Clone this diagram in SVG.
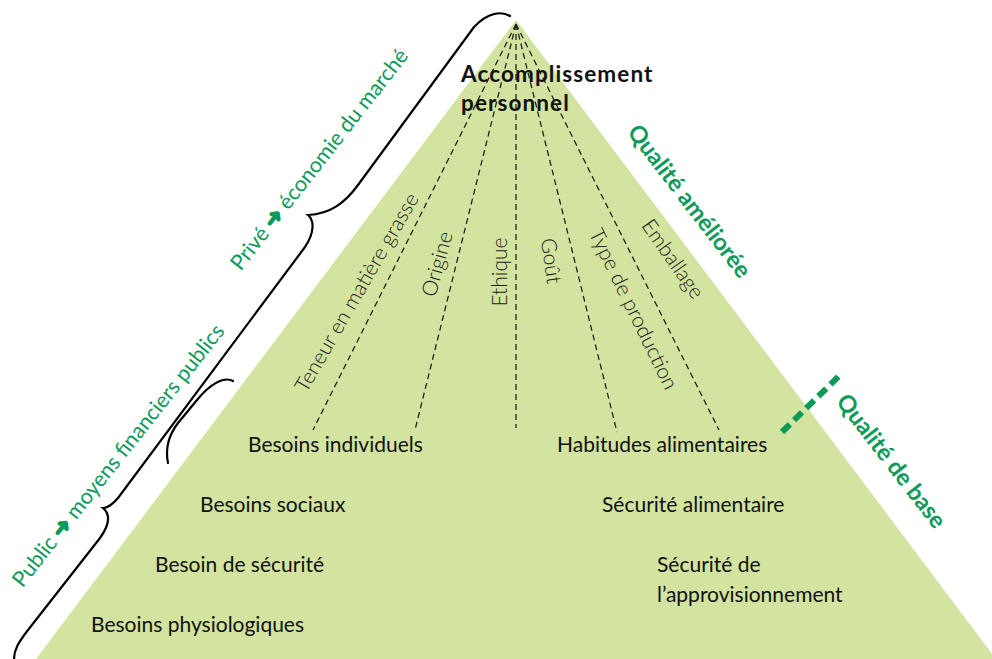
<svg xmlns="http://www.w3.org/2000/svg" width="992" height="659" viewBox="0 0 992 659">
<style>
.lbl{font-family:Lato,"Liberation Sans",sans-serif;font-size:21px;fill:#111}
.thin{font-family:Lato,"Liberation Sans",sans-serif;font-weight:300;font-size:21px;fill:#1a1a1a}
.grn{font-family:Lato,"Liberation Sans",sans-serif;font-size:21.5px;fill:#0b9a5a}
.grnb{font-family:Lato,"Liberation Sans",sans-serif;font-weight:bold;font-size:23.5px;fill:#0b9a5a}
.top{font-family:Lato,"Liberation Sans",sans-serif;font-weight:bold;font-size:22.5px;letter-spacing:1.1px;fill:#111}
.arr{font-family:"DejaVu Sans",sans-serif;font-weight:bold;font-size:22px;stroke:#0b9a5a;stroke-width:1.6}
.dash{stroke:#222;stroke-width:1.3;stroke-dasharray:6 4;fill:none}
.brace{stroke:#000;stroke-width:2.2;fill:none;stroke-linecap:round}
</style>
<rect width="992" height="659" fill="#fff"/>
<g id="pyramid">
<polygon points="516,20 36,659 996,659" fill="#d3e3a0"/>
</g>
<g id="connectors">
<line class="dash" x1="516" y1="24" x2="313" y2="430"/>
<line class="dash" x1="516" y1="24" x2="415" y2="430"/>
<line class="dash" x1="516" y1="24" x2="516" y2="428"/>
<line class="dash" x1="516" y1="24" x2="617" y2="432"/>
<line class="dash" x1="516" y1="24" x2="719" y2="430"/>
<line x1="782" y1="432" x2="842" y2="373" stroke="#0b9a5a" stroke-width="6" stroke-dasharray="11 6"/>
</g>
<g id="braces">
<path class="brace" d="M510,16 C502,11 488,12 474,27 L358,185 C345,203 330,214 308,215 C314,220 315,232 305,247 L118,498 C112,505 108,508 103,508 C110,514 110,524 100,538 L28,630 C18,643 14,650 14,659"/>
<path class="brace" d="M233,381 C224,376 210,384 197,400 L178,423 C168,436 165,448 168,463"/>
</g>
<g id="apex-label">
<text class="top" x="461" y="82">Accomplissement</text>
<text class="top" x="461" y="111">personnel</text>
</g>
<g id="criteria">
<text class="thin" text-anchor="middle" transform="translate(363,296) rotate(-60)">Teneur en matière grasse</text>
<text class="thin" text-anchor="middle" transform="translate(444,266) rotate(-74.5)">Origine</text>
<text class="thin" text-anchor="middle" transform="translate(507,272) rotate(-90)">Ethique</text>
<text class="thin" text-anchor="middle" transform="translate(544,262) rotate(82)">Goût</text>
<text class="thin" text-anchor="middle" transform="translate(627,312) rotate(64)">Type de production</text>
<text class="thin" text-anchor="middle" transform="translate(667,263) rotate(55)">Emballage</text>
</g>
<g id="needs-left">
<text class="lbl" x="248" y="452">Besoins individuels</text>
<text class="lbl" x="200" y="512">Besoins sociaux</text>
<text class="lbl" x="155" y="572">Besoin de sécurité</text>
<text class="lbl" x="91" y="632">Besoins physiologiques</text>
</g>
<g id="needs-right">
<text class="lbl" x="557" y="452">Habitudes alimentaires</text>
<text class="lbl" x="602" y="512">Sécurité alimentaire</text>
<text class="lbl" x="657" y="572">Sécurité de</text>
<text class="lbl" x="657" y="602">l’approvisionnement</text>
</g>
<g id="side-labels">
<text class="grn" text-anchor="middle" transform="translate(325,164) rotate(-52)">Privé <tspan class="arr">➜</tspan> économie du marché</text>
<text class="grn" text-anchor="middle" transform="translate(124,460) rotate(-51.7)">Public <tspan class="arr">➜</tspan> moyens financiers publics</text>
<text class="grnb" text-anchor="middle" transform="translate(683,206) rotate(52.5)">Qualité améliorée</text>
<text class="grnb" text-anchor="middle" transform="translate(885,466) rotate(52.2)">Qualité de base</text>
</g>
</svg>
